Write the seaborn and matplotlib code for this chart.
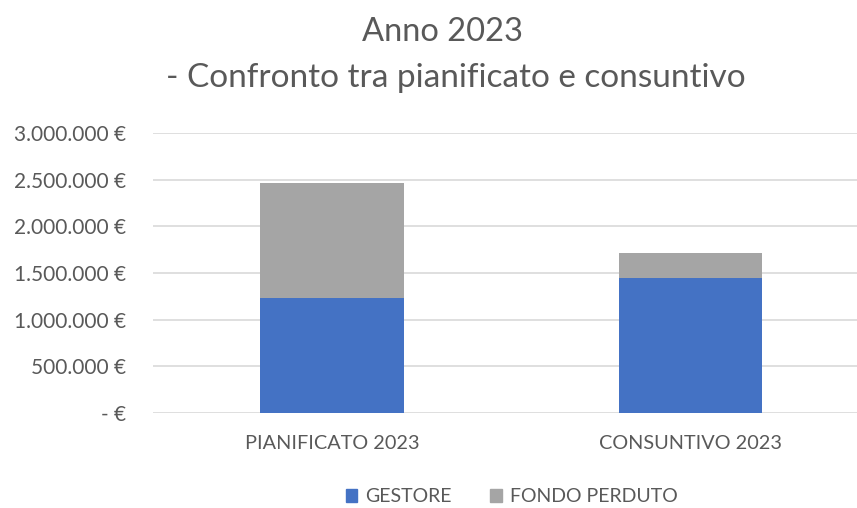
import matplotlib
matplotlib.use("Agg")
import matplotlib.pyplot as plt
from matplotlib.ticker import FuncFormatter
from matplotlib.patches import Patch
import seaborn as sns
import pandas as pd

# values (euro)
categories = ["PIANIFICATO 2023", "CONSUNTIVO 2023"]
gestore = [1235000, 1450000]
fondo_perduto = [1224000, 266000]
y_ticks = [0, 500000, 1000000, 1500000, 2000000, 2500000, 3000000]

BLUE = "#4472C4"
GREY = "#A5A5A5"
TEXT = "#595959"

df = pd.DataFrame({
    "categoria": categories,
    "gestore": gestore,
    "totale": [g + f for g, f in zip(gestore, fondo_perduto)],
})

sns.set_theme(style="white")
plt.rcParams["font.family"] = ["Lato", "DejaVu Sans"]

fig = plt.figure(figsize=(8.57, 5.08), dpi=100)
ax = fig.add_axes([153 / 857, 1 - 413 / 508, 704 / 857, 280 / 508])

# stacked look: total in grey, gestore in blue drawn over it
sns.barplot(data=df, x="categoria", y="totale", color=GREY, width=0.4,
            saturation=1, linewidth=0, ax=ax, zorder=3)
sns.barplot(data=df, x="categoria", y="gestore", color=BLUE, width=0.4,
            saturation=1, linewidth=0, ax=ax, zorder=4)

ax.set_ylim(0, 3000000)
ax.set_xlim(-0.5, 1.466)
ax.set_yticks(y_ticks)
ax.yaxis.set_major_formatter(FuncFormatter(
    lambda v, p: "- €" if v == 0 else f"{int(v):,}".replace(",", ".") + " €"))
ax.grid(axis="y", color="#D9D9D9", linewidth=1.2, zorder=0)
ax.set_axisbelow(True)
for s in ax.spines.values():
    s.set_visible(False)
ax.tick_params(axis="y", length=0, pad=19, labelsize=15, labelcolor=TEXT)
ax.tick_params(axis="x", length=0, pad=16, labelsize=14.3, labelcolor=TEXT)
ax.set_xlabel("")
ax.set_ylabel("")

fig.text(442 / 857, 1 - 32 / 508, "Anno 2023", ha="center", va="center",
         fontsize=23.5, color=TEXT)
fig.text(456 / 857, 1 - 78 / 508, "- Confronto tra pianificato e consuntivo",
         ha="center", va="center", fontsize=24, color=TEXT)

handles = [Patch(color=BLUE, label="GESTORE"), Patch(color=GREY, label="FONDO PERDUTO")]
fig.legend(handles=handles, loc="center", bbox_to_anchor=(0.597, 1 - 497 / 508),
           ncol=2, frameon=False, fontsize=14, labelcolor=TEXT,
           handlelength=0.6, handleheight=0.6, handletextpad=0.4, columnspacing=2.0)

fig.savefig("out.png", dpi=100, facecolor="white")
